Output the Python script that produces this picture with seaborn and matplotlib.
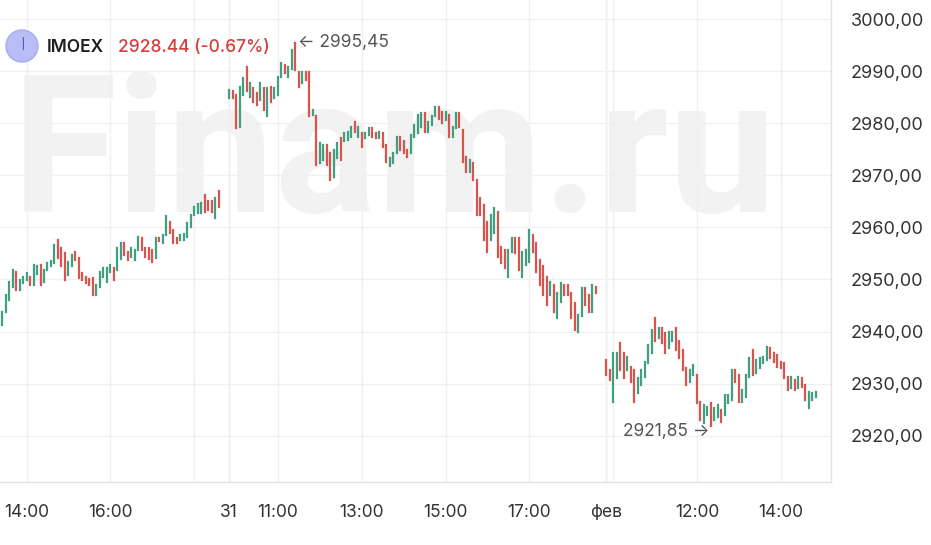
import numpy as np
import pandas as pd
import seaborn as sns
import matplotlib.pyplot as plt
from matplotlib.patches import Ellipse

# IMOEX, 5-minute candles: 30 Jan 13:25-18:45, 31 Jan 9:50-18:45, 3 Feb 9:50-14:50
opens_30 = [2941.3, 2943.8, 2946.1, 2948.6, 2951.5, 2948.0, 2949.3, 2949.9, 2950.5, 2948.9,
            2951.0, 2952.8, 2949.5, 2951.8, 2952.5, 2953.2, 2957.6, 2956.0, 2955.1, 2950.9,
            2952.5, 2955.3, 2954.1, 2951.2, 2950.5, 2950.0, 2950.3, 2947.0, 2948.6, 2950.5,
            2949.5, 2951.5, 2952.2, 2951.8, 2954.0, 2957.0, 2955.3, 2954.4, 2953.7, 2955.7,
            2957.9, 2956.0, 2956.0, 2955.7, 2954.1, 2957.9, 2957.0, 2958.5, 2961.1, 2959.5,
            2957.9, 2957.5, 2957.5, 2958.2, 2960.1, 2962.4, 2962.7, 2962.7, 2966.2, 2965.0,
            2965.0, 2961.8, 2966.9, 2964.9, 2967.0]
closes_30 = [2943.8, 2947.0, 2949.6, 2951.8, 2948.0, 2949.9, 2950.5, 2951.2, 2948.9, 2952.8,
             2952.6, 2949.0, 2951.8, 2953.2, 2953.6, 2956.6, 2954.1, 2952.5, 2949.9, 2953.4,
             2954.7, 2953.7, 2950.3, 2949.9, 2949.3, 2949.0, 2947.0, 2948.9, 2951.5, 2952.2,
             2952.2, 2952.8, 2949.9, 2956.0, 2957.0, 2954.7, 2953.7, 2956.0, 2955.7, 2958.2,
             2955.7, 2954.4, 2953.9, 2953.4, 2957.9, 2957.3, 2958.5, 2962.1, 2958.9, 2957.0,
             2957.0, 2958.5, 2958.8, 2960.8, 2962.4, 2964.0, 2964.5, 2964.6, 2963.0, 2963.4,
             2963.0, 2965.6, 2964.0, 2964.9, 2967.0]

opens_31 = [2984.8, 2986.1, 2985.4, 2979.3, 2985.4, 2990.8, 2985.1, 2986.7, 2985.8, 2984.5,
            2986.8, 2981.3, 2987.0, 2984.8, 2985.4, 2988.9, 2991.2, 2988.9, 2990.5, 2995.4,
            2989.9, 2987.7, 2989.9, 2989.9, 2981.6, 2981.3, 2972.3, 2972.9, 2975.8, 2974.2,
            2969.7, 2973.3, 2977.2, 2976.5, 2976.8, 2977.4, 2980.3, 2977.4, 2978.1, 2977.1,
            2977.7, 2979.0, 2978.1, 2977.1, 2978.1, 2975.8, 2971.7, 2972.3, 2974.2, 2977.4,
            2976.5, 2974.9, 2974.2, 2977.4, 2978.1, 2979.3, 2981.9, 2978.4, 2979.7, 2981.3,
            2983.2, 2982.2, 2980.6, 2981.6, 2977.4, 2979.0, 2981.9, 2978.7, 2973.5, 2970.7,
            2972.3, 2969.1, 2965.6, 2964.3, 2961.1, 2957.6, 2958.9, 2963.0, 2956.3, 2955.7,
            2950.5, 2955.3, 2957.9, 2957.9, 2950.5, 2952.8, 2953.4, 2958.5, 2957.0, 2953.7,
            2952.5, 2950.5, 2947.0, 2948.9, 2942.6, 2945.7, 2948.9, 2948.9, 2947.4, 2945.4,
            2940.0, 2942.9, 2948.3, 2947.0, 2943.8, 2948.6, 2947.4, 2947.4]
closes_31 = [2986.4, 2984.8, 2979.1, 2987.0, 2988.6, 2986.1, 2987.7, 2984.1, 2983.5, 2987.7,
             2982.5, 2986.8, 2984.1, 2986.7, 2988.9, 2991.5, 2989.6, 2990.8, 2994.1, 2990.2,
             2987.0, 2989.9, 2988.3, 2981.3, 2982.5, 2972.0, 2976.2, 2975.8, 2972.0, 2969.1,
             2974.9, 2976.2, 2972.9, 2978.1, 2978.4, 2979.3, 2978.4, 2979.3, 2975.5, 2978.1,
             2979.1, 2977.4, 2977.1, 2978.4, 2975.5, 2972.6, 2973.3, 2974.2, 2977.4, 2974.9,
             2974.2, 2973.6, 2977.7, 2979.6, 2981.6, 2981.9, 2978.4, 2980.3, 2981.3, 2983.2,
             2980.9, 2980.0, 2982.2, 2977.4, 2979.3, 2981.9, 2979.3, 2972.6, 2970.7, 2972.9,
             2969.1, 2962.4, 2962.4, 2957.6, 2955.3, 2962.4, 2963.7, 2954.4, 2953.1, 2952.2,
             2955.7, 2957.9, 2955.0, 2951.8, 2955.3, 2955.7, 2959.5, 2955.3, 2951.5, 2948.9,
             2947.0, 2945.1, 2949.6, 2943.8, 2947.4, 2949.3, 2947.0, 2947.0, 2942.6, 2940.3,
             2943.2, 2948.3, 2945.1, 2943.8, 2948.9, 2947.4, 2947.4, 2947.4]

opens_03 = [2934.6, 2932.6, 2926.5, 2931.1, 2937.8, 2935.9, 2932.6, 2933.3, 2932.6, 2928.2,
            2929.8, 2931.3, 2933.9, 2935.8, 2942.6, 2938.8, 2940.7, 2939.7, 2936.8, 2938.1,
            2940.7, 2938.1, 2936.5, 2933.0, 2930.4, 2931.7, 2931.7, 2926.5, 2922.4, 2924.0,
            2926.2, 2923.0, 2923.7, 2925.0, 2924.0, 2926.2, 2926.9, 2932.6, 2931.7, 2926.5,
            2927.5, 2931.3, 2936.5, 2932.0, 2933.0, 2933.9, 2934.6, 2936.8, 2935.8, 2935.5,
            2934.2, 2933.9, 2931.3, 2929.1, 2930.7, 2929.1, 2931.0, 2929.8, 2925.3, 2926.9,
            2927.5]
closes_03 = [2931.7, 2930.7, 2935.9, 2935.9, 2932.6, 2931.1, 2935.2, 2930.4, 2926.5, 2931.1,
             2932.6, 2934.2, 2937.4, 2940.3, 2938.1, 2940.7, 2937.8, 2935.9, 2940.0, 2940.0,
             2936.5, 2934.9, 2932.6, 2929.8, 2932.6, 2933.6, 2926.2, 2923.0, 2925.9, 2925.6,
             2921.9, 2925.3, 2925.9, 2922.7, 2927.8, 2927.8, 2932.6, 2930.4, 2926.5, 2928.8,
             2931.7, 2934.9, 2931.7, 2934.6, 2934.9, 2935.2, 2937.1, 2934.9, 2934.2, 2933.3,
             2933.0, 2931.0, 2928.8, 2931.3, 2928.8, 2931.3, 2929.4, 2926.9, 2928.5, 2928.2,
             2928.4]

tick_labels = ["14:00", "16:00", "31", "11:00", "13:00", "15:00", "17:00", "фев", "12:00", "14:00"]
tick_candles = [7, 31, 65, 79, 103, 127, 151, 173, 199, 223]
extra_grid = [55, 175]
day_starts = [65, 173]
price_ticks = [2920, 2930, 2940, 2950, 2960, 2970, 2980, 2990, 3000]

ticker = "IMOEX"
last_price = "2928.44"
change = "(-0.67%)"
high_val = 2995.45
low_val = 2921.85

GREEN = "#3f9f80"
RED = "#d9534f"

opens = np.array(opens_30 + opens_31 + opens_03)
closes = np.array(closes_30 + closes_31 + closes_03)
n = len(opens)
idx = np.arange(n)
direction = np.where(closes >= opens, "up", "down")

df = pd.DataFrame({
    "i": np.repeat(idx, 2),
    "price": np.column_stack([opens, closes]).ravel(),
    "dir": np.repeat(direction, 2),
})

sns.set_theme(style="white")
plt.rcParams["font.family"] = ["Inter", "DejaVu Sans"]

fig = plt.figure(figsize=(9.31, 5.45), dpi=100)
ax = fig.add_axes([0, 63 / 545, 831 / 931, 482 / 545])

sns.lineplot(data=df, x="i", y="price", hue="dir", units="i", estimator=None,
             palette={"up": GREEN, "down": RED}, linewidth=1.6, legend=False,
             solid_capstyle="projecting", ax=ax)

ax.set_xlim(-0.6, 237.4)
ax.set_ylim(2911.13, 3003.65)
ax.set_xlabel("")
ax.set_ylabel("")

ax.set_xticks(tick_candles)
ax.set_xticklabels(tick_labels)
ax.set_yticks(price_ticks)
ax.set_yticklabels([f"{v:.2f}".replace(".", ",") for v in price_ticks])
ax.yaxis.tick_right()
ax.tick_params(axis="both", length=0, labelcolor="#333333")
ax.tick_params(axis="y", pad=14, labelsize=13)
ax.tick_params(axis="x", pad=16, labelsize=12.5)

ax.grid(True, color="#f0f0f0", linewidth=1)
ax.set_axisbelow(True)
for g in extra_grid:
    ax.axvline(g, color="#f0f0f0", linewidth=1, zorder=0.5)
for d in day_starts:
    ax.axvline(d, color="#e4e4e4", linewidth=1, zorder=0.5)

for side in ["top", "left"]:
    ax.spines[side].set_visible(False)
for side in ["right", "bottom"]:
    ax.spines[side].set_color("#e2e2e2")
    ax.spines[side].set_linewidth(1)

# watermark
ax.text(12 / 931, (545 - 212) / 545, "Finam.ru", transform=fig.transFigure,
        fontsize=138, fontweight="bold", family="Roboto", color="#f2f2f2",
        ha="left", va="baseline", zorder=0.1, clip_on=False)

# extremes
hi_i = int(np.argmax(np.maximum(opens, closes)))
lo_i = int(np.argmin(np.minimum(opens, closes)))
fmt = lambda v: f"{v:.2f}".replace(".", ",")
ax.annotate("\u2190 " + fmt(high_val), xy=(hi_i, high_val), xytext=(2, 0),
            textcoords="offset points", ha="left", va="center",
            fontsize=12.5, color="#555555")
ax.annotate(fmt(low_val) + " \u2192", xy=(lo_i, low_val), xytext=(-1, -4),
            textcoords="offset points", ha="right", va="center",
            fontsize=12.5, color="#555555")

# header
fig.add_artist(Ellipse((22 / 931, 1 - 46 / 545), 32 / 931, 32 / 545,
                       facecolor="#babdf5", edgecolor="#a6aaf0", linewidth=1))
fig.text(22 / 931, 1 - 46 / 545, "I", ha="center", va="center",
         fontsize=13, color="#2a2fd0", fontweight="light")
fig.text(47 / 931, 1 - 47 / 545, ticker, ha="left", va="center",
         fontsize=12.5, color="#1e1e1e", fontweight="semibold")
fig.text(118 / 931, 1 - 47 / 545, f"{last_price} {change}", ha="left", va="center",
         fontsize=12.5, color="#d63f3c", fontweight="medium")

fig.savefig("out.png", dpi=100)
